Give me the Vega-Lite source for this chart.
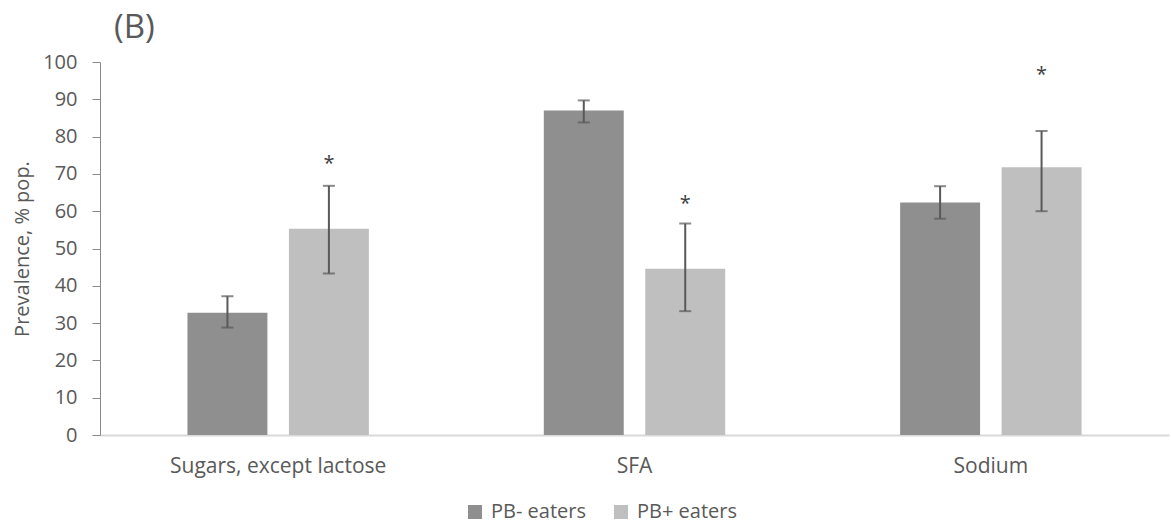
{
  "$schema": "https://vega.github.io/schema/vega-lite/v6.json",
  "width": 1069,
  "height": 373,
  "autosize": "none",
  "padding": {"left": 100, "top": 62, "right": 2, "bottom": 93},
  "background": "white",
  "config": {"view": {"stroke": null}, "font": "Open Sans"},
  "title": {"text": "(B)", "anchor": "start", "frame": "group", "fontSize": 33, "fontWeight": "normal", "color": "#595959", "dx": 14, "offset": 7},
  "data": {"values": [
    {"nutrient": "Sugars, except lactose", "group": "PB- eaters", "value": 32.8, "lo": 28.8, "hi": 37.2, "sig": "", "sig_y": null},
    {"nutrient": "Sugars, except lactose", "group": "PB+ eaters", "value": 55.3, "lo": 43.3, "hi": 66.8, "sig": "*", "sig_y": 72.6},
    {"nutrient": "SFA", "group": "PB- eaters", "value": 87.0, "lo": 83.8, "hi": 89.7, "sig": "", "sig_y": null},
    {"nutrient": "SFA", "group": "PB+ eaters", "value": 44.6, "lo": 33.2, "hi": 56.7, "sig": "*", "sig_y": 61.8},
    {"nutrient": "Sodium", "group": "PB- eaters", "value": 62.3, "lo": 58.0, "hi": 66.7, "sig": "", "sig_y": null},
    {"nutrient": "Sodium", "group": "PB+ eaters", "value": 71.8, "lo": 60.0, "hi": 81.5, "sig": "*", "sig_y": 96.4}
  ]},
  "encoding": {
    "x": {"field": "nutrient", "type": "nominal", "sort": ["Sugars, except lactose", "SFA", "Sodium"],
      "scale": {"paddingInner": 0, "paddingOuter": 0},
      "axis": {"title": null, "labelAngle": 0, "ticks": false, "domainColor": "#d9d9d9", "domainWidth": 2, "labelPadding": 20, "labelFontSize": 21, "labelColor": "#595959", "labelLimit": 0}},
    "xOffset": {"field": "group", "type": "nominal", "sort": ["PB- eaters", "PB+ eaters"],
      "scale": {"paddingInner": 0.212, "paddingOuter": 0.862}}
  },
  "layer": [
    {"mark": {"type": "bar"},
     "encoding": {
       "y": {"field": "value", "type": "quantitative", "scale": {"domain": [0, 100], "nice": false},
         "axis": {"title": "Prevalence, % pop.", "tickCount": 11, "values": [0,10,20,30,40,50,60,70,80,90,100], "labelOverlap": false, "labelSeparation": 0, "grid": false, "domainColor": "#898989", "tickColor": "#898989", "tickSize": 8, "labelPadding": 15, "labelFontSize": 20, "labelColor": "#595959", "titleColor": "#595959", "titleFontSize": 20, "titleFontWeight": "normal", "titlePadding": 10, "format": "d"}},
       "color": {"field": "group", "type": "nominal", "sort": ["PB- eaters", "PB+ eaters"],
         "scale": {"range": ["#8f8f8f", "#bfbfbf"]},
         "legend": {"title": null, "orient": "none", "legendX": 365, "legendY": 440, "direction": "horizontal", "symbolType": "square", "symbolSize": 196, "symbolStrokeWidth": 0, "labelFontSize": 20, "labelColor": "#595959", "columnPadding": 25, "labelOffset": 6, "labelLimit": 0}}
     }},
    {"mark": {"type": "rule", "color": "#595959", "strokeWidth": 2},
     "encoding": {"y": {"field": "lo", "type": "quantitative"}, "y2": {"field": "hi"}}},
    {"mark": {"type": "tick", "color": "#595959", "thickness": 2, "size": 12},
     "encoding": {"y": {"field": "lo", "type": "quantitative"}}},
    {"mark": {"type": "tick", "color": "#595959", "thickness": 2, "size": 12},
     "encoding": {"y": {"field": "hi", "type": "quantitative"}}},
    {"transform": [{"filter": "datum.sig_y != null"}],
     "mark": {"type": "text", "fontSize": 20, "color": "#404040", "baseline": "middle"},
     "encoding": {"y": {"field": "sig_y", "type": "quantitative"}, "text": {"field": "sig"}}}
  ]
}
